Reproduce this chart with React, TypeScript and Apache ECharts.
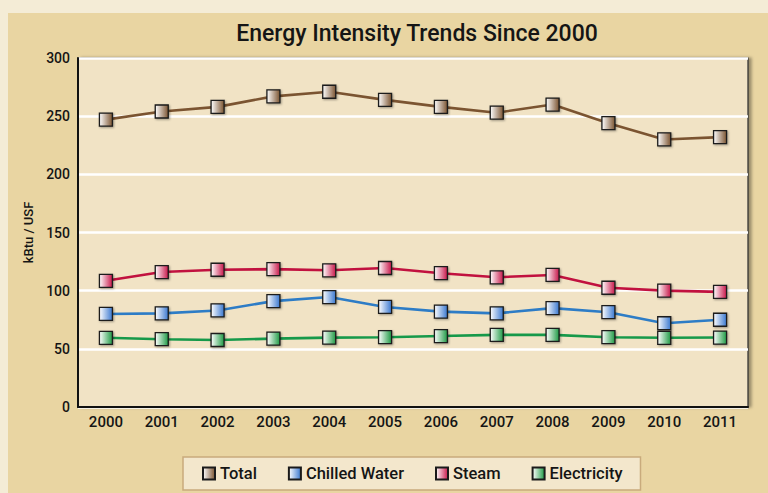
import React, { useEffect, useRef } from "react";
import * as echarts from "echarts";

const years = ["2000", "2001", "2002", "2003", "2004", "2005", "2006", "2007", "2008", "2009", "2010", "2011"];
const total = [247, 254, 258, 267, 271, 264, 258, 253, 260, 244, 230, 232];
const chilledWater = [80, 80.5, 83, 91, 94.5, 86, 82, 80.5, 85, 81.5, 72, 75];
const steam = [108.5, 116, 118, 118.5, 117.5, 119.5, 115, 111.5, 113.5, 102.5, 100, 99];
const electricity = [59.5, 58.3, 57.6, 58.8, 59.6, 60, 61, 62, 62, 60, 59.5, 59.7];

const FONT = "Roboto, 'DejaVu Sans', sans-serif";

const grad = (c: string) =>
  new echarts.graphic.LinearGradient(0, 0, 1, 0, [
    { offset: 0, color: "#ffffff" },
    { offset: 1, color: c },
  ]);

const mk = (name: string, data: number[], line: string, fill: string) => ({
  name,
  type: "line",
  data,
  symbol: "rect",
  symbolSize: 13,
  lineStyle: { color: line, width: 2.6 },
  itemStyle: {
    color: grad(fill),
    borderColor: "#1a1a1a",
    borderWidth: 1.3,
    shadowColor: "rgba(0,0,0,0.35)",
    shadowBlur: 2,
    shadowOffsetX: 1,
    shadowOffsetY: 1,
  },
  emphasis: { disabled: true },
});

export default function App() {
  const ref = useRef<HTMLDivElement>(null);
  useEffect(() => {
    const chart = echarts.init(ref.current!, undefined, { renderer: "svg" });
    chart.setOption({
      animation: false,
      backgroundColor: "#f4ecd6",
      graphic: [
        {
          type: "rect",
          shape: { x: 8, y: 13, width: 760, height: 480 },
          style: { fill: "#e9d5a2" },
          z: -10,
        },
      ],
      title: {
        text: "Energy Intensity Trends Since 2000",
        left: 412,
        textAlign: "center",
        top: 17,
        textStyle: { fontFamily: FONT, fontSize: 23, fontWeight: 500, color: "#151515" },
      },
      legend: {
        data: ["Total", "Chilled Water", "Steam", "Electricity"],
        left: 183,
        top: 457,
        padding: [8, 18, 8, 19],
        backgroundColor: "#f3e7cc",
        borderColor: "#c9ab7c",
        borderWidth: 1.5,
        icon: "rect",
        itemWidth: 12,
        itemHeight: 12,
        itemGap: 31,
        textStyle: { fontFamily: FONT, fontSize: 16.5, fontWeight: 500, color: "#151515" },
      },
      grid: {
        left: 78,
        right: 20,
        top: 58,
        bottom: 86,
        show: true,
        backgroundColor: "#f1e3c5",
        borderColor: "#2a2a2a",
        borderWidth: 1.2,
        shadowColor: "rgba(0,0,0,0.35)",
        shadowBlur: 3,
        shadowOffsetX: 3,
        shadowOffsetY: 0,
      },
      xAxis: {
        type: "category",
        data: years,
        boundaryGap: true,
        axisLine: { lineStyle: { color: "#111", width: 2 } },
        axisTick: { alignWithLabel: true, inside: true, length: 9, lineStyle: { color: "#333", width: 1.2 } },
        axisLabel: { fontFamily: FONT, fontSize: 15, fontWeight: 500, color: "#151515", margin: 7 },
      },
      yAxis: {
        type: "value",
        min: 0,
        max: 300,
        interval: 50,
        name: "kBtu / USF",
        nameLocation: "middle",
        nameGap: 43,
        nameRotate: 90,
        nameTextStyle: { fontFamily: FONT, fontSize: 13, fontWeight: 500, color: "#151515" },
        axisLine: { show: true, lineStyle: { color: "#111", width: 2 } },
        axisTick: { show: false },
        axisLabel: { fontFamily: FONT, fontSize: 14, fontWeight: 500, color: "#151515", margin: 8 },
        splitLine: { lineStyle: { color: "#ffffff", width: 2.5 } },
      },
      series: [
        mk("Total", total, "#7b5431", "#7b5431"),
        mk("Chilled Water", chilledWater, "#2d7cc6", "#3a78d0"),
        mk("Steam", steam, "#c1113f", "#c8174a"),
        mk("Electricity", electricity, "#16994a", "#1f9a45"),
      ],
    });
    return () => chart.dispose();
  }, []);
  return <div ref={ref} style={{ position: "fixed", left: 0, top: 0, width: 768, height: 493 }} />;
}
